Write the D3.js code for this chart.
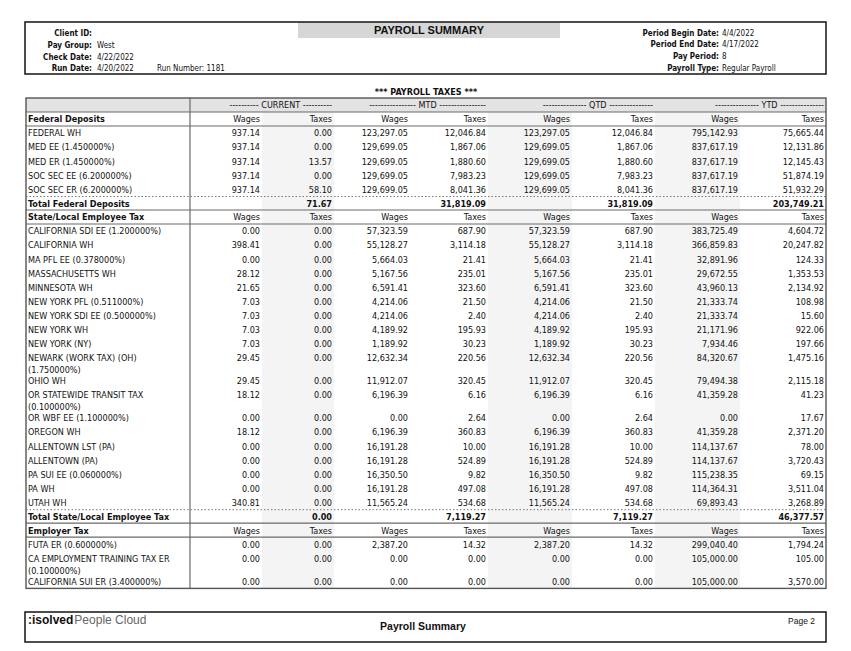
<!DOCTYPE html>
<html><head><meta charset="utf-8">
<script src="https://cdn.jsdelivr.net/npm/d3@7"></script>
<style>
body{margin:0;background:#fff}
svg text{font-family:"DejaVu Sans Condensed","DejaVu Sans",sans-serif;font-stretch:condensed;fill:#111;font-size:9px}
</style></head><body><svg id="c" width="851" height="651"></svg>
<script>
// ---------- DATA ----------
const title = "PAYROLL SUMMARY";
const subTitle = "*** PAYROLL TAXES ***";
const headerLeft = [["Client ID:", ""], ["Pay Group:", "West"], ["Check Date:", "4/22/2022"], ["Run Date:", "4/20/2022"]];
const runNumber = "Run Number: 1181";
const headerRight = [["Period Begin Date:", "4/4/2022"], ["Period End Date:", "4/17/2022"], ["Pay Period:", "8"], ["Payroll Type:", "Regular Payroll"]];
const periods = ["CURRENT", "MTD", "QTD", "YTD"];
const periodDashes = [10, 16, 15, 15];
const measures = ["Wages", "Taxes"];

const federalTitle = "Federal Deposits";
const federalLabels = ["FEDERAL WH", "MED EE (1.450000%)", "MED ER (1.450000%)", "SOC SEC EE (6.200000%)", "SOC SEC ER (6.200000%)"];
const federalValues = [
  [937.14, 0.00, 123297.05, 12046.84, 123297.05, 12046.84, 795142.93, 75665.44],
  [937.14, 0.00, 129699.05, 1867.06, 129699.05, 1867.06, 837617.19, 12131.86],
  [937.14, 13.57, 129699.05, 1880.60, 129699.05, 1880.60, 837617.19, 12145.43],
  [937.14, 0.00, 129699.05, 7983.23, 129699.05, 7983.23, 837617.19, 51874.19],
  [937.14, 58.10, 129699.05, 8041.36, 129699.05, 8041.36, 837617.19, 51932.29]
];
const federalTotalLabel = "Total Federal Deposits";
const federalTotal = [null, 71.67, null, 31819.09, null, 31819.09, null, 203749.21];

const stateTitle = "State/Local Employee Tax";
const stateLabels = ["CALIFORNIA SDI EE (1.200000%)", "CALIFORNIA WH", "MA PFL EE (0.378000%)", "MASSACHUSETTS WH", "MINNESOTA WH",
  "NEW YORK PFL (0.511000%)", "NEW YORK SDI EE (0.500000%)", "NEW YORK WH", "NEW YORK (NY)", "NEWARK (WORK TAX) (OH) (1.750000%)",
  "OHIO WH", "OR STATEWIDE TRANSIT TAX (0.100000%)", "OR WBF EE (1.100000%)", "OREGON WH", "ALLENTOWN LST (PA)", "ALLENTOWN (PA)",
  "PA SUI EE (0.060000%)", "PA WH", "UTAH WH"];
const stateValues = [
  [0.00, 0.00, 57323.59, 687.90, 57323.59, 687.90, 383725.49, 4604.72],
  [398.41, 0.00, 55128.27, 3114.18, 55128.27, 3114.18, 366859.83, 20247.82],
  [0.00, 0.00, 5664.03, 21.41, 5664.03, 21.41, 32891.96, 124.33],
  [28.12, 0.00, 5167.56, 235.01, 5167.56, 235.01, 29672.55, 1353.53],
  [21.65, 0.00, 6591.41, 323.60, 6591.41, 323.60, 43960.13, 2134.92],
  [7.03, 0.00, 4214.06, 21.50, 4214.06, 21.50, 21333.74, 108.98],
  [7.03, 0.00, 4214.06, 2.40, 4214.06, 2.40, 21333.74, 15.60],
  [7.03, 0.00, 4189.92, 195.93, 4189.92, 195.93, 21171.96, 922.06],
  [7.03, 0.00, 1189.92, 30.23, 1189.92, 30.23, 7934.46, 197.66],
  [29.45, 0.00, 12632.34, 220.56, 12632.34, 220.56, 84320.67, 1475.16],
  [29.45, 0.00, 11912.07, 320.45, 11912.07, 320.45, 79494.38, 2115.18],
  [18.12, 0.00, 6196.39, 6.16, 6196.39, 6.16, 41359.28, 41.23],
  [0.00, 0.00, 0.00, 2.64, 0.00, 2.64, 0.00, 17.67],
  [18.12, 0.00, 6196.39, 360.83, 6196.39, 360.83, 41359.28, 2371.20],
  [0.00, 0.00, 16191.28, 10.00, 16191.28, 10.00, 114137.67, 78.00],
  [0.00, 0.00, 16191.28, 524.89, 16191.28, 524.89, 114137.67, 3720.43],
  [0.00, 0.00, 16350.50, 9.82, 16350.50, 9.82, 115238.35, 69.15],
  [0.00, 0.00, 16191.28, 497.08, 16191.28, 497.08, 114364.31, 3511.04],
  [340.81, 0.00, 11565.24, 534.68, 11565.24, 534.68, 69893.43, 3268.89]
];
const stateTotalLabel = "Total State/Local Employee Tax";
const stateTotal = [null, 0.00, null, 7119.27, null, 7119.27, null, 46377.57];

const employerTitle = "Employer Tax";
const employerLabels = ["FUTA ER (0.600000%)", "CA EMPLOYMENT TRAINING TAX ER (0.100000%)", "CALIFORNIA SUI ER (3.400000%)"];
const employerValues = [
  [0.00, 0.00, 2387.20, 14.32, 2387.20, 14.32, 299040.40, 1794.24],
  [0.00, 0.00, 0.00, 0.00, 0.00, 0.00, 105000.00, 105.00],
  [0.00, 0.00, 0.00, 0.00, 0.00, 0.00, 105000.00, 3570.00]
];
const footerCenter = "Payroll Summary";
const footerPage = "Page 2";

// ---------- LAYOUT ----------
const svg = d3.select("#c");
svg.append("rect").attr("width", 851).attr("height", 651).attr("fill", "#fff");
const fmt = d3.format(",.2f");
const colKeys = d3.range(8);
const colEdges = [190, 262, 334, 410, 488, 572, 655, 740, 826];
const xLeft = d3.scaleOrdinal().domain(colKeys).range(colEdges.slice(0, 8));
const xRight = d3.scaleOrdinal().domain(colKeys).range(colEdges.slice(1));
const tableL = 26, tableR = 826, labelX = 28, tableTop = 98;
const lineGap = 12, rowH = 14.1, rowH2 = 23, secH = 14, grpH = 14, totH = 13.5;
const bold = "bold";

// ---------- PAGE HEADER ----------
svg.append("rect").attr("x", 298).attr("y", 22).attr("width", 262).attr("height", 16).attr("fill", "#d6d6d6");
svg.append("rect").attr("x", 25).attr("y", 22).attr("width", 801).attr("height", 52).attr("fill", "none").attr("stroke", "#222").attr("stroke-width", 1.6);
svg.append("text").attr("x", 429).attr("y", 34).attr("text-anchor", "middle")
  .style("font-family", "'Liberation Sans',Arial,sans-serif").style("font-stretch", "normal").style("font-size", "11px").style("font-weight", bold).text(title);
const hY = [36, 48, 59.5, 71];
const hdrSize = "8px";
headerLeft.forEach((d, i) => {
  svg.append("text").attr("x", 92).attr("y", hY[i]).attr("text-anchor", "end").style("font-size", hdrSize).style("font-weight", bold).text(d[0]);
  svg.append("text").attr("x", 97).attr("y", hY[i]).style("font-size", hdrSize).text(d[1]);
});
svg.append("text").attr("x", 157).attr("y", hY[3]).style("font-size", hdrSize).text(runNumber);
const hYr = [35.5, 47, 58.5, 71];
headerRight.forEach((d, i) => {
  svg.append("text").attr("x", 719).attr("y", hYr[i]).attr("text-anchor", "end").style("font-size", hdrSize).style("font-weight", bold).text(d[0]);
  svg.append("text").attr("x", 722).attr("y", hYr[i]).style("font-size", hdrSize).text(d[1]);
});
svg.append("text").attr("x", 426).attr("y", 94.5).attr("text-anchor", "middle").style("font-weight", bold).text(subTitle);

// ---------- TABLE ROW MODEL ----------
const rows = [];
rows.push({type: "group", h: grpH});
function addSection(t, labels, values, totLabel, totVals) {
  rows.push({type: "section", label: t, h: secH});
  labels.forEach((l, i) => rows.push({type: "data", label: l, values: values[i]}));
  if (totLabel) rows.push({type: "total", label: totLabel, values: totVals, h: totH});
}
addSection(federalTitle, federalLabels, federalValues, federalTotalLabel, federalTotal);
addSection(stateTitle, stateLabels, stateValues, stateTotalLabel, stateTotal);
addSection(employerTitle, employerLabels, employerValues, null, null);

const meas = svg.append("text").attr("x", -1000).attr("y", -1000);
function wrap(str, maxW) {
  const words = str.split(" "); const lines = []; let cur = "";
  words.forEach(w => {
    const t = cur ? cur + " " + w : w;
    meas.text(t);
    if (meas.node().getComputedTextLength() > maxW && cur) { lines.push(cur); cur = w; } else cur = t;
  });
  lines.push(cur); return lines;
}
let y = tableTop;
rows.forEach(r => {
  if (r.type === "data") { r.lines = wrap(r.label, 158); r.h = r.lines.length > 1 ? rowH2 : rowH; }
  r.y0 = y; y += r.h; r.y1 = y;
});
meas.remove();
const tableBottom = y;

const g = svg.append("g");
g.append("rect").attr("x", tableL).attr("y", tableTop).attr("width", tableR - tableL).attr("height", grpH).attr("fill", "#e3e3e3");
[1, 4, 6].forEach(c => {
  g.append("rect").attr("x", xLeft(c)).attr("y", tableTop + grpH).attr("width", xRight(c) - xLeft(c))
    .attr("height", tableBottom - tableTop - grpH).attr("fill", "#f4f4f4");
});

const hl = (yy, dashed) => g.append("line").attr("x1", tableL).attr("x2", tableR).attr("y1", yy).attr("y2", yy)
  .attr("stroke", dashed ? "#777" : "#6a6a6a").attr("stroke-width", dashed ? 1 : 1.2).attr("stroke-dasharray", dashed ? "1.5,2" : null);
rows.forEach((r, i) => {
  if (r.type === "group") hl(r.y1);
  if (r.type === "section") { if (i > 1) hl(r.y0); hl(r.y1); }
  if (r.type === "total") hl(r.y0, true);
});
g.append("line").attr("x1", 190).attr("x2", 190).attr("y1", tableTop).attr("y2", tableBottom).attr("stroke", "#6a6a6a").attr("stroke-width", 1.2);
g.append("rect").attr("x", tableL).attr("y", tableTop).attr("width", tableR - tableL).attr("height", tableBottom - tableTop)
  .attr("fill", "none").attr("stroke", "#555").attr("stroke-width", 1.4);

rows.forEach(r => {
  const base = r.y0 + r.h / 2 + 3.3;
  if (r.type === "group") {
    periods.forEach((p, i) => {
      const dash = "-".repeat(periodDashes[i]);
      g.append("text").attr("x", xRight(i * 2 + 1) - 2).attr("y", base).attr("text-anchor", "end").text(dash + " " + p + " " + dash);
    });
  } else if (r.type === "section") {
    g.append("text").attr("x", labelX).attr("y", base).style("font-weight", bold).text(r.label);
    colKeys.forEach(c => g.append("text").attr("x", xRight(c) - 2).attr("y", base).attr("text-anchor", "end").text(measures[c % 2]));
  } else if (r.type === "data") {
    const b1 = r.y0 + 10.3;
    r.lines.forEach((l, k) => g.append("text").attr("x", labelX).attr("y", b1 + k * lineGap).text(l));
    g.selectAll(null).data(r.values).enter().append("text")
      .attr("x", (d, c) => xRight(c) - 2).attr("y", b1).attr("text-anchor", "end").text(d => fmt(d));
  } else if (r.type === "total") {
    g.append("text").attr("x", labelX).attr("y", base).style("font-weight", bold).text(r.label);
    const cells = r.values.map((v, c) => ({v, c})).filter(d => d.v !== null);
    g.selectAll(null).data(cells).enter().append("text")
      .attr("x", d => xRight(d.c) - 2).attr("y", base).attr("text-anchor", "end")
      .style("font-weight", bold).text(d => fmt(d.v));
  }
});

// ---------- FOOTER ----------
svg.append("rect").attr("x", 25).attr("y", 612).attr("width", 801).attr("height", 30).attr("fill", "none").attr("stroke", "#222").attr("stroke-width", 1.6);
const logo = svg.append("text").attr("x", 28).attr("y", 624).style("font-family", "'Liberation Sans',Arial,sans-serif").style("font-stretch", "normal").style("font-size", "12px");
logo.append("tspan").style("font-weight", "900").attr("fill", "#111").text(":isolved");
logo.append("tspan").attr("fill", "#666").style("font-weight", "300").attr("dx", 1).text("People Cloud");
svg.append("text").attr("x", 423).attr("y", 630).attr("text-anchor", "middle").style("font-family", "'Liberation Sans',Arial,sans-serif")
  .style("font-stretch", "normal").style("font-size", "10.5px").style("font-weight", bold).text(footerCenter);
svg.append("text").attr("x", 815).attr("y", 624).attr("text-anchor", "end").style("font-family", "'Liberation Sans',Arial,sans-serif")
  .style("font-stretch", "normal").style("font-size", "8.5px").text(footerPage);
</script></body></html>
